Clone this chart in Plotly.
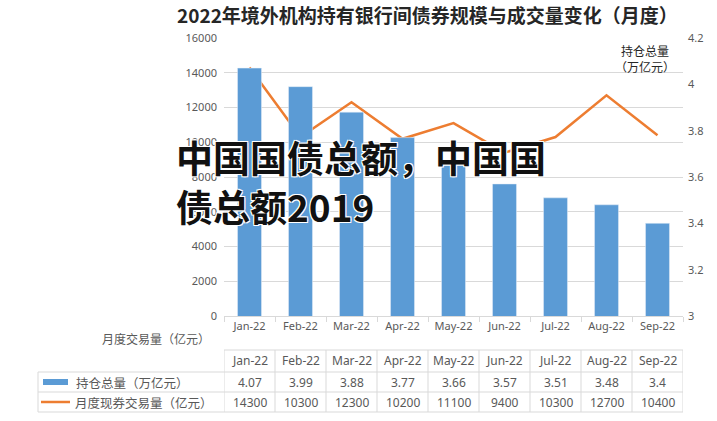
import plotly.graph_objects as go

months = ["Jan-22", "Feb-22", "Mar-22", "Apr-22", "May-22", "Jun-22", "Jul-22", "Aug-22", "Sep-22"]
holdings = [4.07, 3.99, 3.88, 3.77, 3.66, 3.57, 3.51, 3.48, 3.4]          # 持仓总量（万亿元）
volume = [14300, 10300, 12300, 10200, 11100, 9400, 10300, 12700, 10400]     # 月度现券交易量（亿元）
holdings_labels = ["4.07", "3.99", "3.88", "3.77", "3.66", "3.57", "3.51", "3.48", "3.4"]

BLUE = "#5B9BD5"
ORANGE = "#ED7D31"
GREY = "#595959"
LINE = "#D9D9D9"
FONT = "Noto Sans, Noto Sans CJK SC"
CJK = "Noto Sans CJK SC"

W, H = 717, 421
L, R, T, B = 224, 34, 38, 105
ph = H - T - B
pw = W - L - R

def py(p):
    return (H - B - p) / ph

def px(p):
    return (p - L) / pw

fig = go.Figure()
fig.add_trace(go.Bar(x=months, y=holdings, yaxis="y2", marker_color=BLUE, width=0.47,
                     name="持仓总量（万亿元）", showlegend=False))
fig.add_trace(go.Scatter(x=months, y=volume, yaxis="y", mode="lines",
                         line=dict(color=ORANGE, width=2.5), name="月度现券交易量（亿元）",
                         showlegend=False))

annotations = []
shapes = []

# title
annotations.append(dict(text="<b>2022年境外机构持有银行间债券规模与成交量变化（月度）</b>",
                        xref="paper", yref="paper", x=px(427), y=py(14), showarrow=False,
                        font=dict(family=CJK, size=19, color="#262626"), xanchor="center", yanchor="middle"))
# right axis title
annotations.append(dict(text="持仓总量<br>（万亿元）", xref="paper", yref="paper", x=px(645), y=py(58),
                        showarrow=False, font=dict(family=CJK, size=12, color="#262626"),
                        xanchor="center", yanchor="middle", align="center"))
# left category label
annotations.append(dict(text="月度交易量（亿元）", xref="paper", yref="paper", x=px(212), y=py(338),
                        showarrow=False, font=dict(family=CJK, size=12, color=GREY),
                        xanchor="right", yanchor="middle"))

# table
y_top, y_r1, y_r2, y_bot = py(350), py(372), py(392), py(412)
x_left = px(38)
shapes.append(dict(type="line", xref="x", yref="paper", x0=-0.5, x1=len(months) - 0.5, y0=y_top, y1=y_top,
                   line=dict(color=LINE, width=1)))
for yy in (y_r1, y_r2, y_bot):
    shapes.append(dict(type="line", xref="paper", yref="paper", x0=x_left, x1=1, y0=yy, y1=yy,
                       line=dict(color=LINE, width=1)))
shapes.append(dict(type="line", xref="paper", yref="paper", x0=x_left, x1=x_left, y0=y_r1, y1=y_bot,
                   line=dict(color=LINE, width=1)))
for i in range(len(months) + 1):
    shapes.append(dict(type="line", xref="x", yref="paper", x0=i - 0.5, x1=i - 0.5, y0=y_top, y1=y_bot,
                       line=dict(color=LINE, width=1)))
for i, m in enumerate(months):
    annotations.append(dict(text=m, xref="x", yref="paper", x=i, y=(y_top + y_r1) / 2, showarrow=False,
                            font=dict(family=FONT, size=12, color=GREY), yanchor="middle"))
    annotations.append(dict(text=holdings_labels[i], xref="x", yref="paper", x=i, y=(y_r1 + y_r2) / 2,
                            showarrow=False, font=dict(family=FONT, size=12, color=GREY), yanchor="middle"))
    annotations.append(dict(text=str(volume[i]), xref="x", yref="paper", x=i, y=(y_r2 + y_bot) / 2,
                            showarrow=False, font=dict(family=FONT, size=12, color=GREY), yanchor="middle"))
# legend keys
shapes.append(dict(type="rect", xref="paper", yref="paper", x0=px(43), x1=px(68), y0=py(385), y1=py(379),
                   fillcolor=BLUE, line=dict(width=0)))
shapes.append(dict(type="line", xref="paper", yref="paper", x0=px(41), x1=px(70), y0=py(402), y1=py(402),
                   line=dict(color=ORANGE, width=2.5)))
annotations.append(dict(text="持仓总量（万亿元）", xref="paper", yref="paper", x=px(74), y=(y_r1 + y_r2) / 2,
                        showarrow=False, font=dict(family=CJK, size=12.5, color=GREY),
                        xanchor="left", yanchor="middle"))
annotations.append(dict(text="月度现券交易量（亿元）", xref="paper", yref="paper", x=px(73), y=(y_r2 + y_bot) / 2,
                        showarrow=False, font=dict(family=CJK, size=12.5, color=GREY),
                        xanchor="left", yanchor="middle"))

# overlay text
shadow = "1px 1px 0 #fff, -1px -1px 0 #fff, 1px -1px 0 #fff, -1px 1px 0 #fff"
annotations.append(dict(text="<b>中国国债总额，中国国</b>", xref="paper", yref="paper", x=px(174), y=py(157),
                        showarrow=False, font=dict(family=CJK, size=37, color="#111111", shadow=shadow),
                        xanchor="left", yanchor="middle"))
annotations.append(dict(text="<b>债总额2019</b>", xref="paper", yref="paper", x=px(174), y=py(206),
                        showarrow=False, font=dict(family=CJK, size=37, color="#111111", shadow=shadow),
                        xanchor="left", yanchor="middle"))

fig.update_layout(
    width=W, height=H,
    margin=dict(l=L, r=R, t=T, b=B, autoexpand=False),
    paper_bgcolor="white", plot_bgcolor="white",
    font=dict(family=FONT, size=11, color=GREY),
    bargap=0.53,
    xaxis=dict(type="category", showgrid=False, showline=True, linecolor=LINE, linewidth=1,
               ticks="outside", tickson="boundaries", ticklen=5, tickcolor=LINE,
               tickfont=dict(family=FONT, size=11, color=GREY), range=[-0.5, len(months) - 0.5]),
    yaxis=dict(range=[0, 16000], dtick=2000, showgrid=True, gridcolor=LINE, gridwidth=1,
               zeroline=False, showline=False, tickfont=dict(family=FONT, size=11, color=GREY),
               ticks="", tickformat="d", ticklabelstandoff=6),
    yaxis2=dict(range=[3, 4.2], dtick=0.2, overlaying="y", side="right", showgrid=False,
                zeroline=False, showline=False, tickfont=dict(family=FONT, size=11, color=GREY),
                ticks="", tickformat="~g", ticklabelstandoff=4),
    annotations=annotations,
    shapes=shapes,
)

fig.write_html("out.html", config={"displayModeBar": False},
               post_script="document.body.style.margin='0';")
